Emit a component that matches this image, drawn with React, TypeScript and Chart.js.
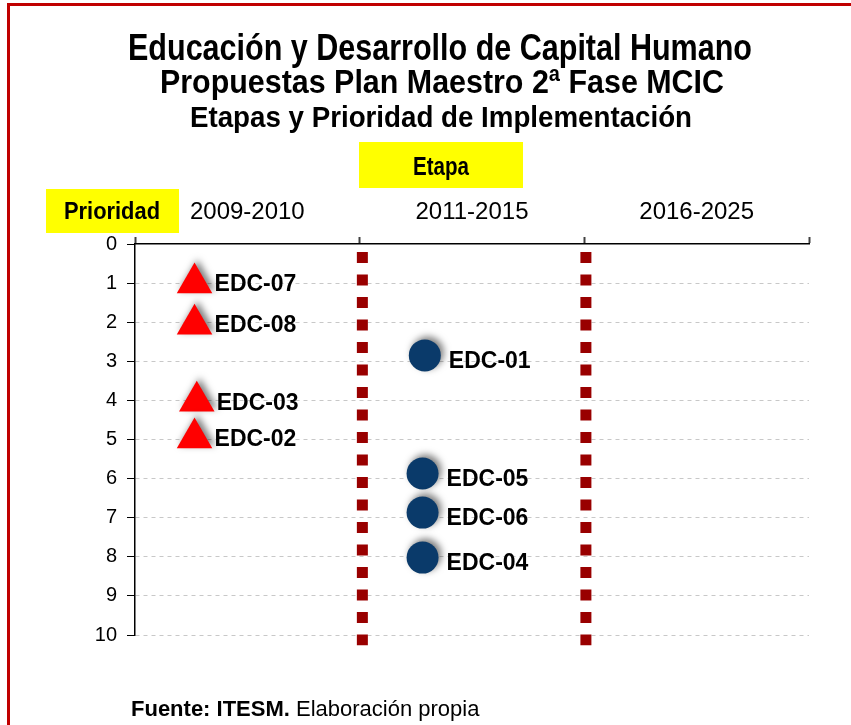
import React, { useEffect, useRef } from 'react';
import { Chart, registerables } from 'chart.js';

Chart.register(...registerables);

// ---------- data ----------
const titleLines = [
  'Educación y Desarrollo de Capital Humano',
  'Propuestas Plan Maestro 2ª Fase MCIC',
  'Etapas y Prioridad de Implementación',
];
const stageAxisTitle = 'Etapa';
const priorityAxisTitle = 'Prioridad';
const stageLabels = ['2009-2010', '2011-2015', '2016-2025'];
const stageTickValues = [0, 0.5, 1, 1.5, 2, 2.5, 3];
const priorityMin = 0;
const priorityMax = 10;
const sourceBold = 'Fuente: ITESM.';
const sourceText = ' Elaboración propia';

const triNames = ['EDC-07', 'EDC-08', 'EDC-03', 'EDC-02'];
const triStage = [0.265, 0.265, 0.275, 0.265];
const triPriority = [1.0, 2.05, 4.02, 4.96];

const circNames = ['EDC-01', 'EDC-05', 'EDC-06', 'EDC-04'];
const circStage = [1.29, 1.28, 1.28, 1.28];
const circPriority = [2.85, 5.87, 6.87, 8.02];

const dividerStage = [1.012, 2.007];
const dividerPriorityRange = [0.205, 10.26];

// ---------- styles ----------
const NARROW = '"Liberation Sans", Arial, sans-serif';
const SANS = '"Liberation Sans", Arial, sans-serif';

function fitText(ctx: CanvasRenderingContext2D, text: string, cx: number, y: number, w: number, font: string) {
  ctx.save();
  ctx.font = font;
  const m = ctx.measureText(text).width;
  const s = w / m;
  ctx.translate(cx, y);
  ctx.scale(s, 1);
  ctx.textAlign = 'center';
  ctx.textBaseline = 'alphabetic';
  ctx.fillStyle = '#000';
  ctx.fillText(text, 0, 0);
  ctx.restore();
}

const decorPlugin = {
  id: 'decor',
  beforeDraw(chart: any) {
    const ctx: CanvasRenderingContext2D = chart.ctx;
    ctx.save();
    ctx.fillStyle = '#fff';
    ctx.fillRect(0, 0, chart.width, chart.height);
    // frame
    ctx.fillStyle = '#c00000';
    ctx.fillRect(7, 3, chart.width, 3);
    ctx.fillRect(7, 3, 3, chart.height);
    // title
    fitText(ctx, titleLines[0], 440, 60, 624, `bold 37px ${NARROW}`);
    fitText(ctx, titleLines[1], 442, 93, 564, `bold 34px ${NARROW}`);
    fitText(ctx, titleLines[2], 441, 127, 502, `bold 30px ${NARROW}`);
    // yellow boxes
    ctx.fillStyle = '#ffff00';
    ctx.fillRect(359, 142, 164, 46);
    ctx.fillRect(46, 189, 133, 44);
    fitText(ctx, stageAxisTitle, 441, 175, 56, `bold 26px ${NARROW}`);
    fitText(ctx, priorityAxisTitle, 112, 219, 96, `bold 23px ${NARROW}`);
    // footer
    ctx.fillStyle = '#000';
    ctx.textAlign = 'left';
    ctx.textBaseline = 'alphabetic';
    ctx.font = `bold 22px ${SANS}`;
    ctx.fillText(sourceBold, 131, 716);
    const bw = ctx.measureText(sourceBold).width;
    ctx.font = `22px ${SANS}`;
    ctx.fillText(sourceText, 131 + bw, 716);
    ctx.restore();
  },
  beforeDatasetDraw(chart: any, args: any) {
    const ds = chart.data.datasets[args.index];
    if (ds.shadow) {
      const ctx = chart.ctx;
      ctx.save();
      ctx.shadowColor = 'rgba(0,0,0,0.5)';
      ctx.shadowBlur = 7;
      ctx.shadowOffsetX = 3;
      ctx.shadowOffsetY = -3;
    }
  },
  afterDatasetDraw(chart: any, args: any) {
    const ds = chart.data.datasets[args.index];
    if (ds.shadow) chart.ctx.restore();
  },
  afterDatasetsDraw(chart: any) {
    const ctx: CanvasRenderingContext2D = chart.ctx;
    chart.data.datasets.forEach((ds: any, i: number) => {
      if (!ds.names) return;
      const meta = chart.getDatasetMeta(i);
      ctx.save();
      ctx.font = `bold 23px ${SANS}`;
      ctx.fillStyle = '#000';
      ctx.textAlign = 'left';
      ctx.textBaseline = 'middle';
      meta.data.forEach((pt: any, j: number) => {
        ctx.fillText(ds.names[j], pt.x + ds.labelDx, pt.y + ds.labelDy);
      });
      ctx.restore();
    });
  },
};

export default function App() {
  const ref = useRef<HTMLCanvasElement>(null);
  useEffect(() => {
    if (!ref.current) return;
    const dividers = dividerStage.map((x) => ({
      data: [{ x, y: dividerPriorityRange[0] }, { x, y: dividerPriorityRange[1] }],
      showLine: true,
      borderColor: '#990000',
      borderWidth: 11,
      borderDash: [11, 11.5],
      borderCapStyle: 'butt',
      pointRadius: 0,
      pointHoverRadius: 0,
      clip: false,
    }));
    const chart = new Chart(ref.current, {
      type: 'scatter',
      data: {
        datasets: [
          ...dividers,
          {
            data: triStage.map((x, i) => ({ x, y: triPriority[i] })),
            names: triNames,
            labelDx: 20,
            labelDy: 2,
            shadow: true,
            pointStyle: 'triangle',
            pointRadius: 20.5,
            pointHoverRadius: 20.5,
            backgroundColor: '#ff0000',
            borderWidth: 0,
            clip: false,
          },
          {
            data: circStage.map((x, i) => ({ x, y: circPriority[i] })),
            names: circNames,
            labelDx: 24,
            labelDy: 6,
            shadow: true,
            pointStyle: 'circle',
            pointRadius: 16,
            pointHoverRadius: 16,
            backgroundColor: '#0a3a6a',
            borderWidth: 0,
            clip: false,
          },
        ] as any,
      },
      options: {
        animation: false,
        responsive: false,
        devicePixelRatio: 1,
        events: [],
        layout: { padding: { top: 184, right: 42, bottom: 90, left: 0 } },
        plugins: { legend: { display: false }, tooltip: { enabled: false }, title: { display: false } },
        scales: {
          x: {
            type: 'linear',
            position: 'top',
            min: 0,
            max: 3,
            afterBuildTicks: (s: any) => {
              s.ticks = stageTickValues.map((v) => ({ value: v }));
            },
            afterFit: (s: any) => {
              s.height = 60;
            },
            ticks: {
              autoSkip: false,
              maxRotation: 0,
              padding: 10,
              color: '#000',
              font: { family: SANS, size: 24 },
              callback: (v: any) => (Math.abs((v % 1) - 0.5) < 1e-6 ? stageLabels[Math.floor(v)] : ''),
            },
            grid: {
              drawOnChartArea: false,
              tickLength: 7,
              tickWidth: 2,
              tickColor: (c: any) => (c.tick && c.tick.value % 1 === 0 ? '#404040' : 'rgba(0,0,0,0)'),
            },
            border: { color: '#000', width: 1.5 },
          },
          y: {
            type: 'linear',
            reverse: true,
            min: priorityMin,
            max: priorityMax,
            afterFit: (s: any) => {
              s.width = 135;
            },
            ticks: { stepSize: 1, padding: 10, color: '#000', font: { family: SANS, size: 20 } },
            grid: {
              color: (c: any) => (c.tick && c.tick.value === 0 ? 'rgba(0,0,0,0)' : '#c8c8c8'),
              tickColor: '#000',
              tickLength: 8,
              tickBorderDash: [],
            },
            border: { color: '#000', width: 1.5, dash: [4, 4] },
          },
        },
      } as any,
      plugins: [decorPlugin],
    });
    return () => chart.destroy();
  }, []);
  return (
    <canvas
      ref={ref}
      width={851}
      height={725}
      style={{ position: 'fixed', left: 0, top: 0, width: 851, height: 725 }}
    />
  );
}
